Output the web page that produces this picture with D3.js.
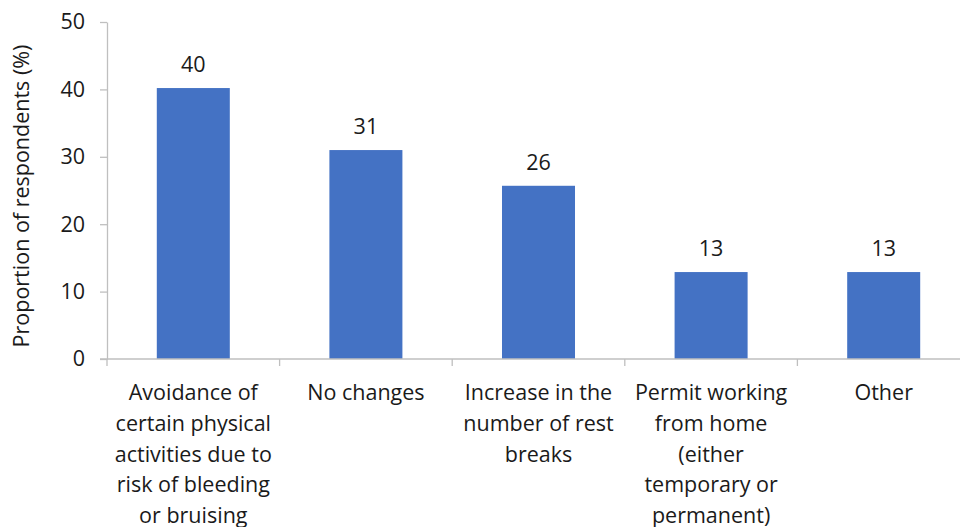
<!DOCTYPE html>
<html>
<head>
<meta charset="utf-8">
<script src="https://cdn.jsdelivr.net/npm/d3@7"></script>
<style>
  body { margin: 0; background: #fff; }
  text { font-family: "Open Sans", sans-serif; fill: #1a1a1a; }
</style>
</head>
<body>
<script>
// chart data
var categories = [
  "Avoidance of\ncertain physical\nactivities due to\nrisk of bleeding\nor bruising",
  "No changes",
  "Increase in the\nnumber of rest\nbreaks",
  "Permit working\nfrom home\n(either\ntemporary or\npermanent)",
  "Other"
];
var values = [40.2, 31.0, 25.7, 12.9, 12.9];
var valueLabels = ["40", "31", "26", "13", "13"];
var yTicks = [0, 10, 20, 30, 40, 50];
var yTitle = "Proportion of respondents (%)";

var svgWidth = 960;
var svgHeight = 527;
var axisLeftX = 107;
var step = 172.6;
var fontSize = "21.5px";

var svg = d3.select("body")
  .append("svg")
  .attr("width", svgWidth)
  .attr("height", svgHeight);

var x = d3.scaleBand()
  .domain(categories)
  .range([axisLeftX, axisLeftX + step * categories.length])
  .paddingInner(0.577)
  .paddingOuter(0.2885);

var y = d3.scaleLinear()
  .domain([0, 50])
  .range([359, 22]);

// y axis
var yAxis = svg.append("g")
  .attr("transform", "translate(" + axisLeftX + ",0)")
  .call(d3.axisLeft(y).tickValues(yTicks).tickSize(7).tickSizeOuter(0).tickPadding(15));
yAxis.selectAll("path, line").attr("stroke", "#bfbfbf").attr("stroke-width", 1.3);
yAxis.selectAll("text")
  .style("font-family", "Open Sans, sans-serif")
  .style("font-size", fontSize)
  .attr("fill", "#1a1a1a");

// bars
svg.selectAll("rect.bar")
  .data(values)
  .enter().append("rect")
  .attr("class", "bar")
  .attr("x", function (d, i) { return x(categories[i]); })
  .attr("y", function (d) { return y(d); })
  .attr("width", x.bandwidth())
  .attr("height", function (d) { return y(0) - y(d); })
  .attr("fill", "#4472c4");

// x axis line and boundary ticks
var x0 = x.range()[0];
svg.append("line")
  .attr("x1", axisLeftX - 7).attr("x2", x.range()[1])
  .attr("y1", y(0)).attr("y2", y(0))
  .attr("stroke", "#bfbfbf").attr("stroke-width", 1.3);
svg.selectAll("line.xtick")
  .data(d3.range(categories.length + 1))
  .enter().append("line")
  .attr("class", "xtick")
  .attr("x1", function (i) { return x0 + i * x.step(); })
  .attr("x2", function (i) { return x0 + i * x.step(); })
  .attr("y1", y(0)).attr("y2", y(0) + 7)
  .attr("stroke", "#bfbfbf").attr("stroke-width", 1.3);

// value labels
svg.selectAll("text.val")
  .data(values)
  .enter().append("text")
  .attr("class", "val")
  .attr("x", function (d, i) { return x(categories[i]) + x.bandwidth() / 2; })
  .attr("y", function (d) { return y(d) - 16; })
  .attr("text-anchor", "middle")
  .style("font-size", fontSize)
  .text(function (d, i) { return valueLabels[i]; });

// category labels
var lab = svg.selectAll("text.cat")
  .data(categories)
  .enter().append("text")
  .attr("class", "cat")
  .attr("text-anchor", "middle")
  .style("font-size", fontSize)
  .attr("transform", function (d) { return "translate(" + (x(d) + x.bandwidth() / 2) + ",400)"; });
lab.selectAll("tspan")
  .data(function (d) { return d.split("\n"); })
  .enter().append("tspan")
  .attr("x", 0)
  .attr("dy", function (d, i) { return i === 0 ? 0 : 30.8; })
  .text(function (d) { return d; });

// y axis title
svg.append("text")
  .attr("transform", "translate(29," + 196 + ") rotate(-90)")
  .attr("text-anchor", "middle")
  .style("font-size", fontSize)
  .text(yTitle);
</script>
</body>
</html>
